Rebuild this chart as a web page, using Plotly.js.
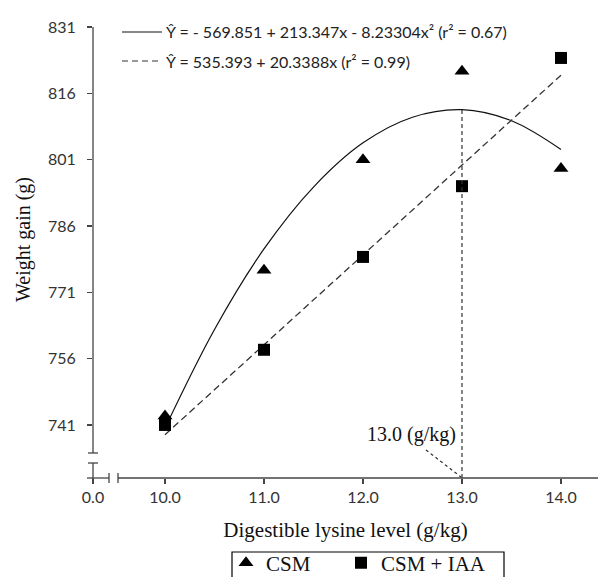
<!DOCTYPE html>
<html>
<head>
<meta charset="utf-8">
<script src="https://cdn.plot.ly/plotly-3.0.1.min.js"></script>
<style>html,body{margin:0;padding:0;background:#fff;}#chart{width:598px;height:577px;}</style>
</head>
<body>
<div id="chart"></div>
<script>
// ---- data ----
const lysine = [10, 11, 12, 13, 14];
const csm = [743, 776, 801, 821, 799];
const csmIaa = [741, 758, 779, 795, 824];
// fitted curves as drawn in the picture
const fitX = [10, 10.5, 11, 11.5, 12, 12.5, 13, 13.5, 14];
const quadFit = [740.3, 762.6, 780.8, 794.8, 804.8, 810.6, 812.3, 809.8, 803.3];
const linX = [10, 14];
const linFit = [738.8, 820.1];
const optimum = {x: 13.0, y: 812.3};
const yTicks = [741, 756, 771, 786, 801, 816, 831];
const xTickVals = [9.2727, 10, 11, 12, 13, 14];
const xTickText = ['0.0', '10.0', '11.0', '12.0', '13.0', '14.0'];
const eq1 = 'Ŷ = - 569.851 + 213.347x - 8.23304x² (r² = 0.67)';
const eq2 = 'Ŷ = 535.393 + 20.3388x (r² = 0.99)';

// ---- layout helpers ----
const W = 598, H = 577, L = 93, R = 0, T = 27, B = 99;
const pw = W - L - R, ph = H - T - B;
const px = v => (v - L) / pw;         // pixel x -> paper
const py = v => (H - B - v) / ph;     // pixel y -> paper

const serif = 'Liberation Serif, Times New Roman, serif';
const sans = 'Lato, Liberation Sans, Arial, sans-serif';

const traces = [
  {x: fitX, y: quadFit, mode: 'lines', line: {color: '#111', width: 1.2, shape: 'spline'}, showlegend: false, hoverinfo: 'skip'},
  {x: linX, y: linFit, mode: 'lines', line: {color: '#333', width: 1.3, dash: '7px,4px'}, showlegend: false, hoverinfo: 'skip'},
  {x: lysine, y: csm, mode: 'markers', name: 'CSM', legend: 'legend', marker: {symbol: 'triangle-up', size: 13, color: '#000'}},
  {x: lysine, y: csmIaa, mode: 'markers', name: 'CSM + IAA', legend: 'legend2', marker: {symbol: 'square', size: 12, color: '#000'}}
];

const axisCol = '#444';
const shapes = [
  // y axis with break
  {type: 'line', xref: 'paper', yref: 'paper', x0: 0, x1: 0, y0: 1, y1: py(453), line: {color: axisCol, width: 1.3}},
  {type: 'line', xref: 'paper', yref: 'paper', x0: 0, x1: 0, y0: py(463), y1: py(483), line: {color: axisCol, width: 1.3}},
  {type: 'line', xref: 'paper', yref: 'paper', x0: px(88), x1: px(98), y0: py(453), y1: py(453), line: {color: axisCol, width: 1.3}},
  {type: 'line', xref: 'paper', yref: 'paper', x0: px(88), x1: px(98), y0: py(463), y1: py(463), line: {color: axisCol, width: 1.3}},
  // x axis with break
  {type: 'line', xref: 'paper', yref: 'paper', x0: px(87), x1: px(109), y0: 0, y1: 0, line: {color: axisCol, width: 1.3}},
  {type: 'line', xref: 'paper', yref: 'paper', x0: px(118), x1: 1, y0: 0, y1: 0, line: {color: axisCol, width: 1.3}},
  {type: 'line', xref: 'paper', yref: 'paper', x0: px(109), x1: px(109), y0: py(473), y1: py(483), line: {color: axisCol, width: 1.3}},
  {type: 'line', xref: 'paper', yref: 'paper', x0: px(118), x1: px(118), y0: py(473), y1: py(483), line: {color: axisCol, width: 1.3}},
  // optimum vertical dashed line
  {type: 'line', xref: 'x', yref: 'y', x0: optimum.x, x1: optimum.x, y0: 729, y1: optimum.y, line: {color: '#333', width: 1.2, dash: '4px,3px'}},
  // pointer from label
  {type: 'line', xref: 'paper', yref: 'paper', x0: px(426), x1: px(461), y0: py(450), y1: py(477), line: {color: '#333', width: 1.2, dash: '3px,3px'}},
  // equation line samples
  {type: 'line', xref: 'paper', yref: 'paper', x0: px(122), x1: px(162), y0: py(32), y1: py(32), line: {color: '#111', width: 1.2}},
  {type: 'line', xref: 'paper', yref: 'paper', x0: px(122), x1: px(162), y0: py(61), y1: py(61), line: {color: '#333', width: 1.2, dash: '6px,4px'}},
  // legend frame
  {type: 'rect', xref: 'paper', yref: 'paper', x0: px(232), x1: px(504), y0: py(552), y1: py(592), line: {color: '#000', width: 1.2}, fillcolor: 'rgba(0,0,0,0)'}
];

const annotations = [
  {xref: 'paper', yref: 'paper', x: px(164), y: py(31), xanchor: 'left', yanchor: 'middle', showarrow: false, text: eq1, font: {family: sans, size: 16, color: '#222'}},
  {xref: 'paper', yref: 'paper', x: px(164), y: py(61), xanchor: 'left', yanchor: 'middle', showarrow: false, text: eq2, font: {family: sans, size: 16, color: '#222'}},
  {xref: 'paper', yref: 'paper', x: px(411), y: py(434), xanchor: 'center', yanchor: 'middle', showarrow: false, text: '13.0 (g/kg)', font: {family: serif, size: 20, color: '#111'}},
  {xref: 'paper', yref: 'paper', x: px(23), y: py(240), xanchor: 'center', yanchor: 'middle', textangle: -90, showarrow: false, text: 'Weight gain (g)', font: {family: serif, size: 20, color: '#111'}}
];

const legendBase = {
  orientation: 'h', xref: 'container', yref: 'container',
  xanchor: 'left', y: (H - 563) / H, yanchor: 'middle',
  borderwidth: 0, bgcolor: 'rgba(0,0,0,0)',
  font: {family: serif, size: 21, color: '#111'}, itemwidth: 30
};

const layout = {
  width: W, height: H,
  margin: {l: L, r: R, t: T, b: B, pad: 0},
  paper_bgcolor: '#fff', plot_bgcolor: '#fff',
  showlegend: true,
  legend: Object.assign({}, legendBase, {x: 226 / W}),
  legend2: Object.assign({}, legendBase, {x: 341 / W}),
  xaxis: {
    range: [9.2727, 14.374], showgrid: false, zeroline: false, showline: false,
    tickmode: 'array', tickvals: xTickVals, ticktext: xTickText,
    ticks: 'outside', ticklen: 5, tickcolor: axisCol, tickwidth: 1.3,
    tickfont: {family: sans, size: 16, color: '#333'}, ticklabelstandoff: 0,
    title: {text: 'Digestible lysine level (g/kg)', font: {family: serif, size: 21, color: '#111'}, standoff: 17},
    automargin: false
  },
  yaxis: {
    range: [729, 831], showgrid: false, zeroline: false, showline: false,
    tickmode: 'array', tickvals: yTicks,
    ticks: 'outside', ticklen: 5, tickcolor: axisCol, tickwidth: 1.3,
    tickfont: {family: sans, size: 16, color: '#333'}, ticklabelstandoff: 8,
    automargin: false
  },
  shapes: shapes,
  annotations: annotations
};

Plotly.newPlot('chart', traces, layout, {displayModeBar: false, staticPlot: true});
</script>
</body>
</html>
